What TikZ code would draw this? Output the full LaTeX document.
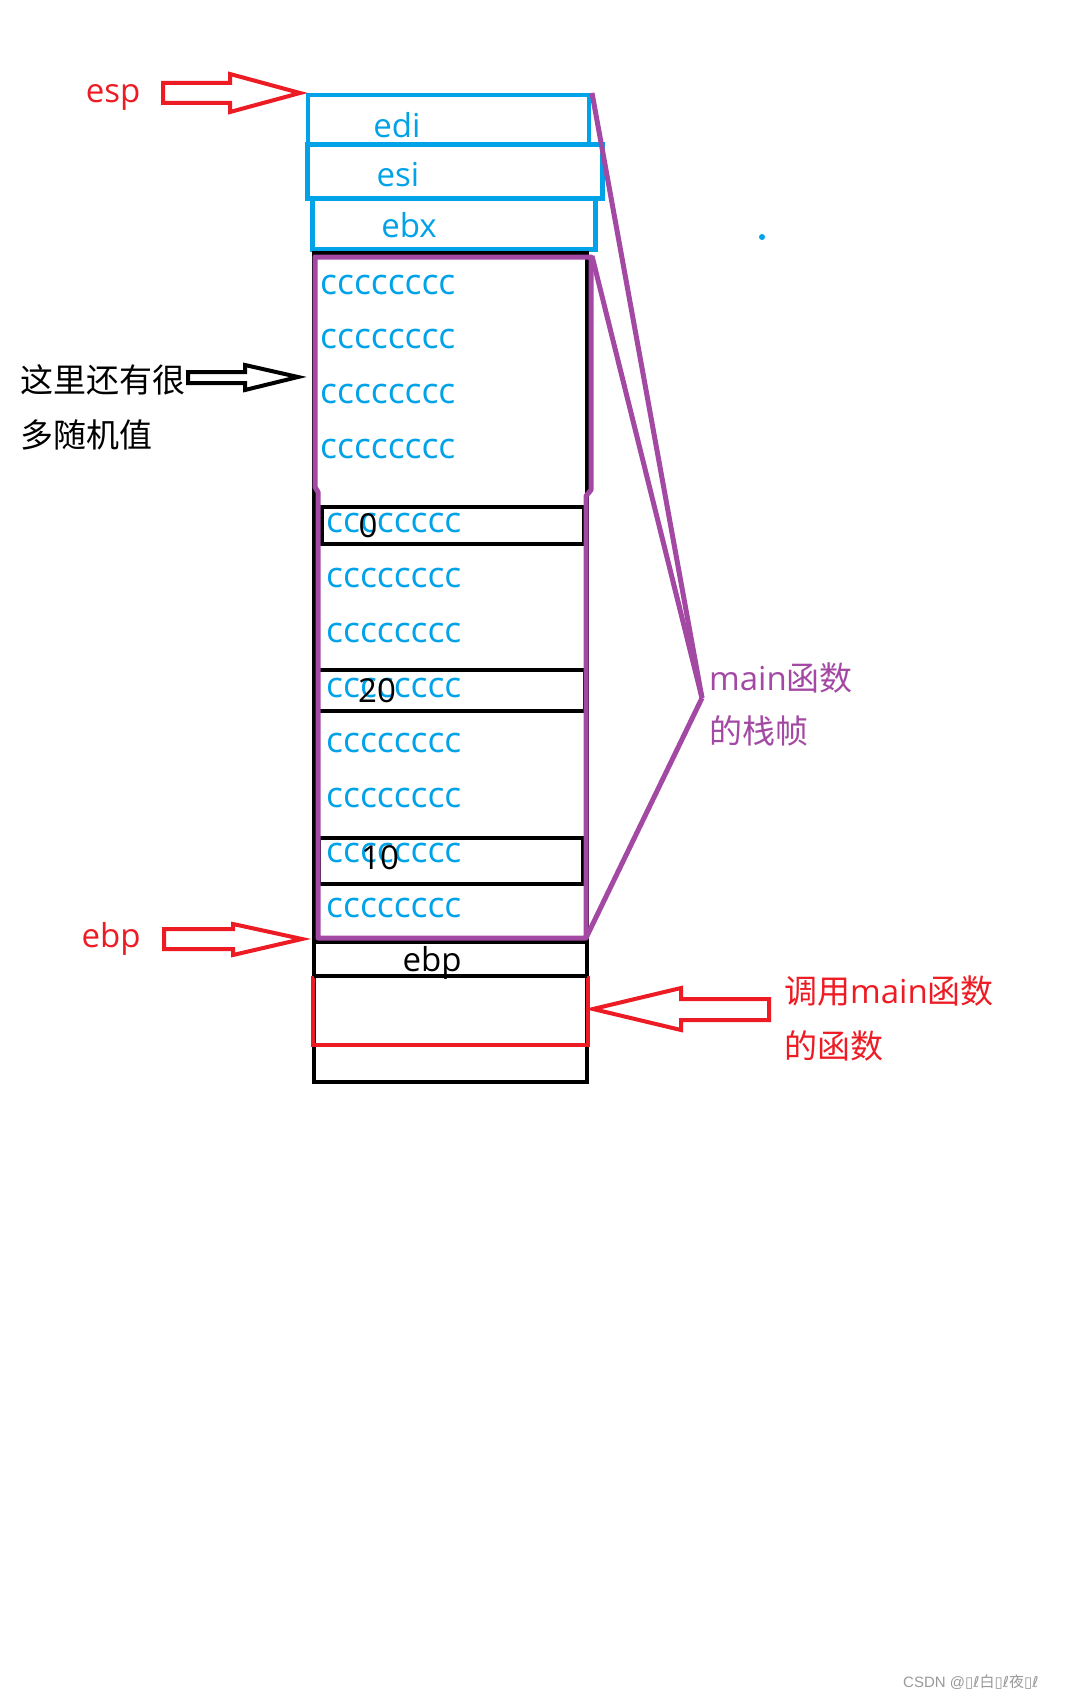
\documentclass[tikz,border=0pt]{standalone}
\usepackage{fontspec}
\setmainfont{Open Sans}
\newfontfamily\cjk{Noto Sans CJK SC}
\newfontfamily\wmlatin{Liberation Sans}
\newfontfamily\wmsym{DejaVu Sans}
\definecolor{paintred}{RGB}{237,28,36}
\definecolor{paintblue}{RGB}{0,162,232}
\definecolor{paintpurple}{RGB}{163,73,164}

\begin{document}
\begin{tikzpicture}[x=1pt,y=-1pt]
	\tikzstyle{txt}=[inner sep=0pt,font=\fontsize{33}{36}\selectfont]
	\tikzstyle{ctxt}=[txt,text=paintblue,anchor=base west,font=\fontsize{35.5}{38}\selectfont]
	\tikzstyle{bluebox}=[draw=paintblue,line width=4.5pt]
	\tikzstyle{blackbox}=[draw=black,line width=4.5pt]
	\tikzstyle{purpleline}=[draw=paintpurple,line width=5pt,line join=round]
	\tikzstyle{redline}=[draw=paintred,line width=4.5pt]
	\tikzstyle{hollowarrow}=[line width=4pt,line join=miter]
	\useasboundingbox (0,0) rectangle (1068,1699);
	\fill[white] (0,0) rectangle (1068,1699);

	% saved registers
	\draw[bluebox] (308,95) rectangle (589,145);
	\draw[bluebox,line width=5pt] (307,145) rectangle (602,199);
	\draw[bluebox,line width=5pt] (312,199) rectangle (595,249);
	\node[txt,text=paintblue,anchor=base](edi) at (397,138) {edi};
	\node[txt,text=paintblue,anchor=base](esi) at (398,186) {esi};
	\node[txt,text=paintblue,anchor=base](ebx) at (409,237) {ebx};
	\fill[paintblue] (762,237) circle (3);

	% stack frame of main
	\draw[blackbox] (314,253) rectangle (587,1082);
	\draw[blackbox] (314,942) -- (587,942);
	\draw[redline] (313,976) -- (313,1045) -- (588,1045) -- (588,976);
	\draw[blackbox] (314,976) -- (587,976);
	\draw[blackbox] (322,507) rectangle (584,544);
	\draw[blackbox] (317,670) rectangle (585,711);
	\draw[blackbox] (319,838) rectangle (583,884);
	\draw[purpleline] (315,257) -- (591,257) -- (591,490) -- (586,496)
		-- (586,938) -- (318,938) -- (318,492) -- (315,487) -- cycle;
	\foreach \y in {294,348,403,458}
		\node[ctxt](cu\y) at (320,\y) {cccccccc};
	\foreach \i in {0,...,7}
		\node[ctxt](cl\i) at (326,{532+55*\i}) {cccccccc};
	\node[txt,anchor=base](v0) at (368,537) {0};
	\node[txt,anchor=base](v20) at (377,702) {20};
	\node[txt,anchor=base](v10) at (380,869) {10};
	\node[txt,anchor=base](ebpval) at (432,971) {ebp};

	% bracket to the label
	\coordinate (apex) at (702,698);
	\coordinate (ediNE) at (592,93);
	\coordinate (frameNE) at (592,256);
	\coordinate (frameSE) at (586,938);
	\draw[purpleline] (ediNE) -- (apex);
	\draw[purpleline] (frameNE) -- (apex);
	\draw[purpleline] (apex) -- (frameSE);
	\node[txt,text=paintpurple,anchor=base west](frame1) at (709,690) {main{\cjk 函数}};
	\node[txt,text=paintpurple,anchor=base west](frame2) at (709,743) {\cjk 的栈帧};

	% pointers
	\node[txt,text=paintred,anchor=base](esp) at (113,103) {esp};
	\coordinate (esptip) at (300,93);
	\draw[redline,hollowarrow] (esptip) -- ++(-70,-19) -- ++(0,9) -- ++(-67,0)
		-- ++(0,20) -- ++(67,0) -- ++(0,9) -- cycle;
	\node[txt,text=paintred,anchor=base](ebp) at (111,947) {ebp};
	\coordinate (ebptip) at (302,939);
	\draw[redline,hollowarrow] (ebptip) -- ++(-69,-15) -- ++(0,5) -- ++(-69,0)
		-- ++(0,20) -- ++(69,0) -- ++(0,6) -- cycle;
	\node[txt,anchor=base west](note1) at (20,392) {\cjk 这里还有很};
	\node[txt,anchor=base west](note2) at (20,447) {\cjk 多随机值};
	\coordinate (notetip) at (298,377);
	\draw[hollowarrow] (notetip) -- ++(-53,-12) -- ++(0,7) -- ++(-57,0)
		-- ++(0,11) -- ++(57,0) -- ++(0,7) -- cycle;
	\node[txt,text=paintred,anchor=base west](caller1) at (784,1003) {{\cjk 调用}main{\cjk 函数}};
	\node[txt,text=paintred,anchor=base west](caller2) at (784,1058) {\cjk 的函数};
	\coordinate (callertip) at (593,1009);
	\draw[redline,hollowarrow] (callertip) -- ++(88,-21) -- ++(0,11) -- ++(88,0)
		-- ++(0,21) -- ++(-88,0) -- ++(0,10) -- cycle;

	\node[inner sep=0pt,anchor=base west,text=black!40,font=\fontsize{15}{18}\selectfont](mark)
		at (903,1687) {\wmlatin CSDN @{\wmsym ▯ℓ}{\cjk 白}{\wmsym ▯ℓ}{\cjk 夜}{\wmsym ▯ℓ}};
\end{tikzpicture}
\end{document}
